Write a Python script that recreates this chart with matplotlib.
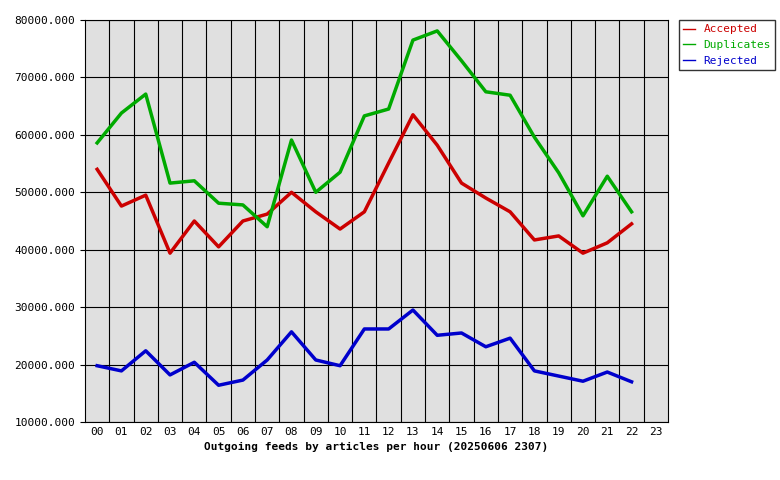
import numpy as np
import matplotlib.pyplot as plt

hours = ["%02d" % h for h in range(24)]
accepted = [54000, 47600, 49500, 39400, 45000, 40500, 45000, 46200, 50000, 46600, 43600, 46600,
            55100, 63500, 58200, 51600, 49000, 46600, 41700, 42400, 39400, 41200, 44500]
duplicates = [58600, 63800, 67100, 51600, 52000, 48100, 47800, 44000, 59100, 50000, 53500, 63300,
              64500, 76500, 78100, 72900, 67500, 66900, 59600, 53400, 45900, 52800, 46600]
rejected = [19800, 18900, 22400, 18200, 20400, 16400, 17300, 20800, 25700, 20800, 19800, 26200,
            26200, 29500, 25100, 25500, 23100, 24600, 18900, 18000, 17100, 18700, 17000]

plt.rcParams['font.family'] = 'DejaVu Sans Mono'
fig = plt.figure(figsize=(7.8, 4.8), dpi=100)
ax = fig.add_axes([85/780, 1-422/480, 583/780, 402/480])
ax.set_facecolor('#e0e0e0')

x = np.arange(len(accepted))
ax.plot(x, accepted, color='#cc0000', lw=2.5, label='Accepted')
ax.plot(x, duplicates, color='#00aa00', lw=2.5, label='Duplicates')
ax.plot(x, rejected, color='#0000cc', lw=2.5, label='Rejected')

ax.set_xlim(-0.5, 23.5)
ax.set_ylim(10000, 80000)
ax.set_xticks(range(24))
ax.set_xticklabels(hours, fontsize=8)
ax.set_xticks(np.arange(0.5, 23.5, 1), minor=True)
ax.tick_params(axis='x', which='both', length=0)
ax.set_yticks(range(10000, 80001, 10000))
ax.set_yticklabels(["%d.000" % v for v in range(10000, 80001, 10000)], fontsize=8)
ax.grid(which='minor', axis='x', color='black', lw=0.8)
ax.grid(which='major', axis='y', color='black', lw=0.8)
ax.set_axisbelow(True)
ax.set_xlabel('Outgoing feeds by articles per hour (20250606 2307)', fontsize=8, fontweight='bold')

leg = fig.legend(loc='upper left', bbox_to_anchor=(679/780, 1-20/480), fontsize=8,
                 handlelength=1, fancybox=False, edgecolor='black', borderaxespad=0)
for t, c in zip(leg.get_texts(), ['#cc0000', '#00aa00', '#0000cc']):
    t.set_color(c)
for l in leg.get_lines():
    l.set_linewidth(1)

fig.savefig('out.png', dpi=100)
